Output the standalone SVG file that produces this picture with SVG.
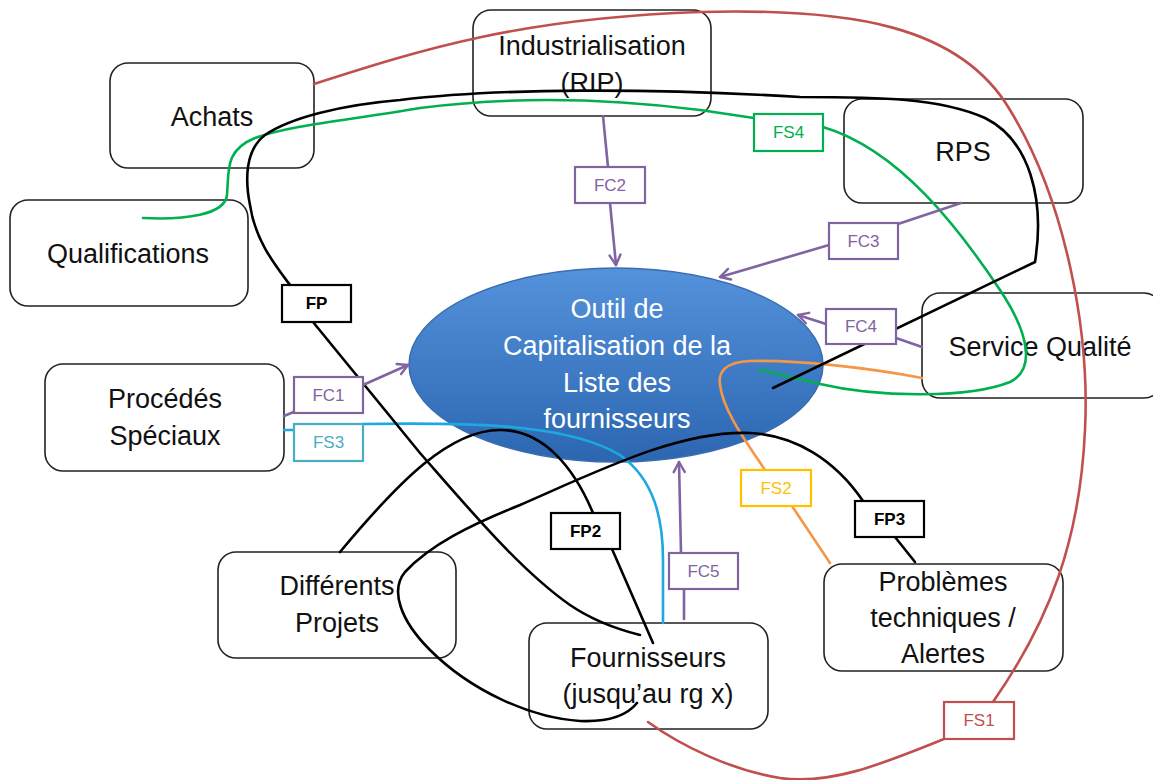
<svg xmlns="http://www.w3.org/2000/svg" width="1153" height="780" viewBox="0 0 1153 780">
<style>
#nodes rect{fill:#fff;stroke:#222;stroke-width:1.6}
.nt{font-family:"Liberation Sans",Arial,sans-serif;font-size:27px;fill:#111;text-anchor:middle}
.et{font-family:"Liberation Sans",Arial,sans-serif;font-size:27px;fill:#fff;text-anchor:middle}
.c{fill:none;stroke-width:2.6;stroke-linecap:round}
.p{stroke:#8064a2}
.k{stroke:#000}
.r{stroke:#c0504d}
.g{stroke:#00b050}
.o{stroke:#f79646}
.b{stroke:#1ba9e0}
.lb{fill:#fff;stroke-width:2.2}
.lt{font-family:"Liberation Sans",Arial,sans-serif;font-size:17px;text-anchor:middle}
</style>
<defs>
<linearGradient id="eg" x1="0" y1="0" x2="0" y2="1">
<stop offset="0" stop-color="#5592dc"/>
<stop offset="1" stop-color="#2c66b0"/>
</linearGradient>
<marker id="ar" markerUnits="userSpaceOnUse" markerWidth="14" markerHeight="14" viewBox="0 0 14 14" refX="12" refY="7" orient="auto">
<path d="M2,1.5 L12,7 L2,12.5" fill="none" stroke="#8064a2" stroke-width="2.4" stroke-linecap="round" stroke-linejoin="round"/>
</marker>
</defs>

<g id="nodes">
<g id="n-ellipse"><ellipse cx="616" cy="365" rx="207" ry="97" fill="url(#eg)" stroke="#3a6cb0" stroke-width="1.5"/>
<text class="et" x="617" y="318">Outil de</text><text class="et" x="617" y="355">Capitalisation de la</text><text class="et" x="617" y="392">Liste des</text><text class="et" x="617" y="428">fournisseurs</text></g>
<g id="n-achats"><rect x="110" y="63" width="204" height="105" rx="18"/><text class="nt" x="212" y="126">Achats</text></g>
<g id="n-qualif"><rect x="10" y="200" width="238" height="106" rx="18"/><text class="nt" x="128" y="263">Qualifications</text></g>
<g id="n-indus"><rect x="473" y="10" width="238" height="106" rx="18"/><text class="nt" x="592" y="55">Industrialisation</text><text class="nt" x="592" y="92">(RIP)</text></g>
<g id="n-rps"><rect x="844" y="99" width="239" height="104" rx="18"/><text class="nt" x="963" y="161">RPS</text></g>
<g id="n-sq"><rect x="922" y="293" width="240" height="105" rx="18"/><text class="nt" x="1040" y="356">Service Qualité</text></g>
<g id="n-proc"><rect x="45" y="364" width="239" height="107" rx="18"/><text class="nt" x="165" y="408">Procédés</text><text class="nt" x="165" y="445">Spéciaux</text></g>
<g id="n-proj"><rect x="218" y="552" width="238" height="106" rx="18"/><text class="nt" x="337" y="595">Différents</text><text class="nt" x="337" y="632">Projets</text></g>
<g id="n-four"><rect x="529" y="623" width="239" height="106" rx="18"/><text class="nt" x="648" y="667">Fournisseurs</text><text class="nt" x="648" y="703">(jusqu’au rg x)</text></g>
<g id="n-prob"><rect x="824" y="564" width="239" height="107" rx="18"/><text class="nt" x="943" y="591">Problèmes</text><text class="nt" x="943" y="627">techniques /</text><text class="nt" x="943" y="663">Alertes</text></g>
</g>

<g id="connectors">
<path class="c r" d="M314,84 C420,50 520,18 700,12 C850,8 960,25 1010,110 C1065,200 1090,330 1085,430 C1080,540 1050,620 993,702"/>
<path class="c r" d="M944,739 C880,765 830,785 780,778 C730,770 680,745 648,722"/>
<path class="c g" d="M143,218 C185,220 225,215 227,195 C229,170 225,150 255,138 C290,125 350,120 420,108 C520,95 620,100 700,110 L754,118"/>
<path class="c g" d="M823,127 C900,150 960,230 1000,290 C1030,335 1035,370 1010,382 C970,398 880,398 820,384 L760,370"/>
<path class="c o" d="M922,378 C870,368 800,360 750,361 C725,362 718,372 720,385 C723,410 745,440 765,470"/>
<path class="c o" d="M792,506 L830,563"/>
<path class="c b" d="M284,430 L294,430"/>
<path class="c b" d="M363,424 C480,422 570,425 620,455 C655,480 663,520 663,560 L663,623"/>
<path class="c k" d="M773,388 L1035,262 C1045,200 1030,140 985,118 C940,98 880,97 800,97 C650,88 500,88 400,100 C340,105 290,118 265,135 C245,150 245,180 250,205 C255,240 275,265 290,285"/>
<path class="c k" d="M313,322 L420,453 C470,510 520,570 570,605 C595,622 620,630 640,635"/>
<path class="c k" d="M340,552 C400,480 450,430 500,430 C545,430 575,470 593,513"/>
<path class="c k" d="M612,549 L653,643"/>
<path class="c k" d="M637,703 C625,718 605,722 580,721 C530,718 470,690 430,650 C400,620 390,590 405,572 C430,545 470,525 520,505 C600,470 680,430 750,433 C795,435 835,460 863,501"/>
<path class="c k" d="M895,537 L915,562"/>
<path class="c p" d="M603,116 L608,167"/>
<path class="c p" d="M610,203 L616,265" marker-end="url(#ar)"/>
<path class="c p" d="M961,203 L898,224"/>
<path class="c p" d="M829,245 L720,277" marker-end="url(#ar)"/>
<path class="c p" d="M922,347 L896,338"/>
<path class="c p" d="M826,324 L798,315" marker-end="url(#ar)"/>
<path class="c p" d="M284,416 L296,411"/>
<path class="c p" d="M363,385 L408,365" marker-end="url(#ar)"/>
<path class="c p" d="M684,619 L684,589"/>
<path class="c p" d="M681,553 L679,462" marker-end="url(#ar)"/>
</g>

<g id="labels">
<g id="l-fc2"><rect class="lb" x="575" y="167" width="70" height="36" stroke="#8064a2"/><text class="lt" x="610" y="191" fill="#8064a2">FC2</text></g>
<g id="l-fs4"><rect class="lb" x="754" y="114" width="69" height="37" stroke="#00b050"/><text class="lt" x="788.5" y="138" fill="#00b050">FS4</text></g>
<g id="l-fc3"><rect class="lb" x="829" y="223" width="69" height="36" stroke="#8064a2"/><text class="lt" x="863.5" y="247" fill="#8064a2">FC3</text></g>
<g id="l-fc4"><rect class="lb" x="826" y="309" width="70" height="35" stroke="#8064a2"/><text class="lt" x="861" y="332" fill="#8064a2">FC4</text></g>
<g id="l-fp"><rect class="lb" x="282" y="285" width="69" height="37" stroke="#000"/><text class="lt" x="316.5" y="309" fill="#000" font-weight="bold">FP</text></g>
<g id="l-fc1"><rect class="lb" x="294" y="377" width="69" height="36" stroke="#8064a2"/><text class="lt" x="328.5" y="401" fill="#8064a2">FC1</text></g>
<g id="l-fs3"><rect class="lb" x="294" y="424" width="69" height="37" stroke="#4bacc6"/><text class="lt" x="328.5" y="448" fill="#4bacc6">FS3</text></g>
<g id="l-fp2"><rect class="lb" x="551" y="513" width="69" height="36" stroke="#000"/><text class="lt" x="585.5" y="537" fill="#000" font-weight="bold">FP2</text></g>
<g id="l-fc5"><rect class="lb" x="669" y="553" width="69" height="36" stroke="#8064a2"/><text class="lt" x="703.5" y="577" fill="#8064a2">FC5</text></g>
<g id="l-fs2"><rect class="lb" x="741" y="470" width="70" height="36" stroke="#ffc000"/><text class="lt" x="776" y="494" fill="#ffc000">FS2</text></g>
<g id="l-fp3"><rect class="lb" x="855" y="501" width="69" height="36" stroke="#000"/><text class="lt" x="889.5" y="525" fill="#000" font-weight="bold">FP3</text></g>
<g id="l-fs1"><rect class="lb" x="944" y="702" width="70" height="37" stroke="#c0504d"/><text class="lt" x="979" y="726" fill="#c0504d">FS1</text></g>
</g>
</svg>
